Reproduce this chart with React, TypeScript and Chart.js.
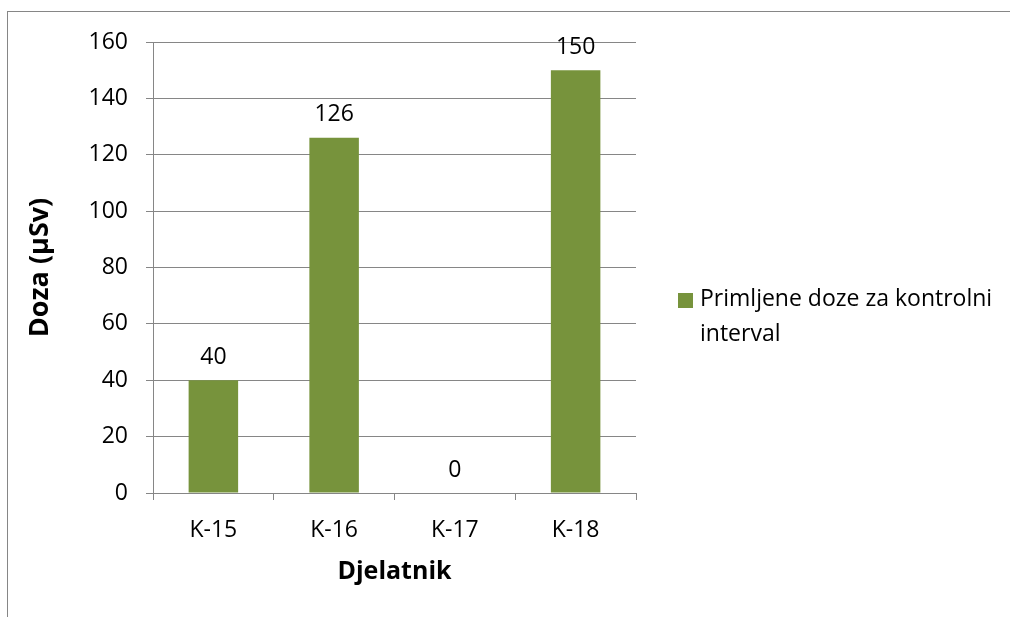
import React, { useEffect, useRef } from "react";
import { Chart, registerables } from "chart.js";

Chart.register(...registerables);

const categories = ["K-15", "K-16", "K-17", "K-18"];
const doseValues = [40, 126, 0, 150];
const seriesLabel = "Primljene doze za kontrolni interval";
const legendLines = ["Primljene doze za kontrolni", "interval"];
const yTitle = "Doza (µSv)";
const xTitle = "Djelatnik";

const BAR_COLOR = "#77933C";
const GRID_COLOR = "#868686";
const FONT = "'Open Sans', sans-serif";

const valueLabels = {
  id: "valueLabels",
  afterDatasetsDraw(chart: any) {
    const ctx = chart.ctx;
    const meta = chart.getDatasetMeta(0);
    ctx.save();
    ctx.font = `23px ${FONT}`;
    ctx.fillStyle = "#000";
    ctx.textAlign = "center";
    ctx.textBaseline = "middle";
    meta.data.forEach((bar: any, i: number) => {
      const v = chart.data.datasets[0].data[i];
      ctx.fillText(String(v), bar.x, bar.y - 23);
    });
    ctx.restore();
  },
};

export default function App() {
  const ref = useRef<HTMLCanvasElement | null>(null);
  useEffect(() => {
    if (!ref.current) return;
    const chart = new Chart(ref.current, {
      type: "bar",
      data: {
        labels: categories,
        datasets: [
          {
            label: seriesLabel,
            data: doseValues,
            backgroundColor: BAR_COLOR,
            categoryPercentage: 1,
            barPercentage: 0.41,
          },
        ],
      },
      options: {
        responsive: false,
        animation: false,
        layout: { padding: { left: 0, top: 42, right: 374, bottom: 0 } },
        plugins: {
          legend: { display: false },
          tooltip: { enabled: false },
        },
        scales: {
          x: {
            afterFit(scale: any) {
              scale.height = 124;
            },
            grid: {
              drawOnChartArea: false,
              drawTicks: true,
              tickLength: 7,
              color: GRID_COLOR,
              offset: true,
            },
            border: { display: true, color: GRID_COLOR },
            ticks: {
              color: "#000",
              padding: 17,
              font: { family: FONT, size: 23 },
              maxRotation: 0,
            },
            title: {
              display: true,
              text: xTitle,
              color: "#000",
              font: { family: FONT, size: 25, weight: "bold" },
              padding: { top: 0, bottom: 30 },
            },
          },
          y: {
            min: 0,
            max: 160,
            afterFit(scale: any) {
              scale.width = 153;
            },
            ticks: {
              stepSize: 20,
              color: "#000",
              padding: 18,
              font: { family: FONT, size: 23 },
            },
            grid: {
              color: GRID_COLOR,
              drawTicks: true,
              tickLength: 7,
            },
            border: { display: true, color: GRID_COLOR },
            title: {
              display: true,
              text: yTitle,
              color: "#000",
              font: { family: FONT, size: 27, weight: "bold" },
              padding: { top: 24, bottom: 0 },
            },
          },
        },
      },
      plugins: [valueLabels],
    });
    return () => chart.destroy();
  }, []);

  return (
    <div
      style={{
        position: "fixed",
        left: 0,
        top: 0,
        width: 1010,
        height: 617,
        overflow: "hidden",
        background: "#fff",
      }}
    >
      <div
        style={{
          position: "absolute",
          left: 7,
          top: 11,
          width: 1200,
          height: 800,
          borderLeft: "1px solid #868686",
          borderTop: "1px solid #868686",
        }}
      />
      <canvas
        ref={ref}
        width={1010}
        height={617}
        style={{ position: "absolute", left: 0, top: 0, width: 1010, height: 617 }}
      />
      <div
        style={{
          position: "absolute",
          left: 678,
          top: 293,
          width: 15,
          height: 15,
          background: BAR_COLOR,
        }}
      />
      <div
        style={{
          position: "absolute",
          left: 700,
          top: 280,
          fontFamily: FONT,
          fontSize: 23,
          lineHeight: "35px",
          color: "#000",
          whiteSpace: "nowrap",
        }}
      >
        {legendLines[0]}
        <br />
        {legendLines[1]}
      </div>
    </div>
  );
}
